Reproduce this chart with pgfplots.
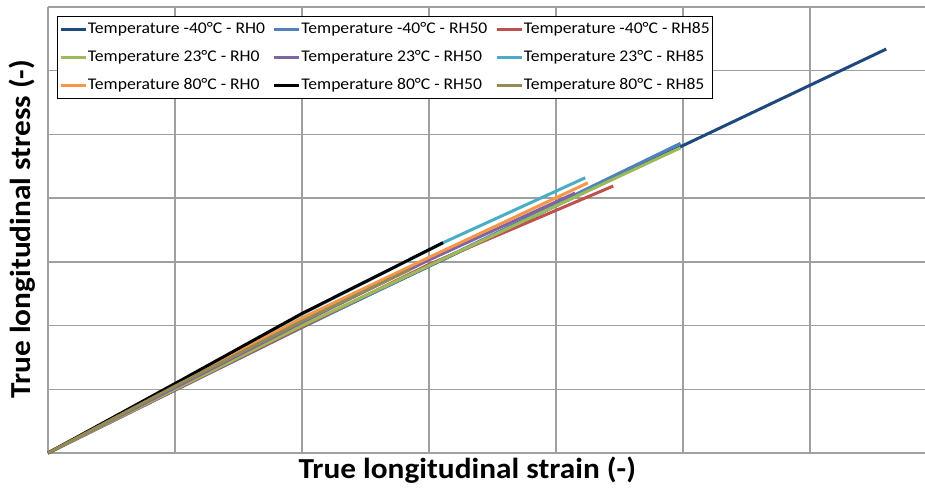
\documentclass[border=0pt]{standalone}
\usepackage{fontspec}
\setmainfont{Carlito}[FakeStretch=1.08]
\usepackage{pgfplots}
\pgfplotsset{compat=1.18}
\definecolor{cNavy}{HTML}{1F497D}
\definecolor{cBlue}{HTML}{4F81BD}
\definecolor{cRed}{HTML}{C0504D}
\definecolor{cGreen}{HTML}{9BBB59}
\definecolor{cPurple}{HTML}{8064A2}
\definecolor{cAqua}{HTML}{4BACC6}
\definecolor{cOrange}{HTML}{F79646}
\definecolor{cOlive}{HTML}{948A54}
\definecolor{cGrid}{HTML}{A0A0A0}
\begin{document}
\begin{tikzpicture}
\path[use as bounding box] (-48pt,-42pt) rectangle (877pt,453pt);
\begin{axis}[
  at={(0,0)}, anchor=south west,
  width=877pt, height=446pt, scale only axis,
  xmin=0, xmax=6.905, ymin=0, ymax=7,
  xtick={0,1,2,3,4,5,6}, ytick={0,1,2,3,4,5,6,7},
  xticklabels={}, yticklabels={},
  major tick length=0pt,
  axis line style={draw=none},
  grid=major,
  major grid style={draw=cGrid, line width=1.3pt},
  xlabel={\fontsize{29}{33}\selectfont\bfseries True longitudinal strain (-)},
  ylabel={\fontsize{29}{33}\selectfont\bfseries True longitudinal stress (-)},
  xlabel style={at={(axis description cs:0.478,-0.038)}, anchor=center},
  ylabel style={at={(axis description cs:-0.0296,0.502)}, anchor=center},
  clip=false,
  legend columns=3,
  legend style={at={(axis description cs:0.0103,0.9798)}, anchor=north west,
    draw=black, line width=1pt, font=\fontsize{16.3}{18}\selectfont,
    inner xsep=2pt, inner ysep=4pt,
    nodes={inner sep=1pt, text height=12pt, text depth=4pt},
    /tikz/every even column/.append style={column sep=7pt},
    /tikz/every odd column/.append style={column sep=0pt},
    row sep=10pt},
  legend cell align=left,
  legend image code/.code={\draw[#1, line width=2.4pt] (0pt,0pt) -- (25pt,0pt);},
]
\addplot[cNavy, line width=3pt] coordinates {(0,0) (2,1.98) (4,3.88) (6.6,6.34)};
\addlegendentry{Temperature -40°C - RH0}
\addplot[cBlue, line width=3pt] coordinates {(0,0) (2,1.97) (4,3.91) (4.98,4.86)};
\addlegendentry{Temperature -40°C - RH50}
\addplot[cRed, line width=3pt] coordinates {(0,0) (2,1.98) (3,2.96) (4.45,4.19)};
\addlegendentry{Temperature -40°C - RH85}
\addplot[cGreen, line width=3pt] coordinates {(0,0) (2,2.0) (4,3.88) (4.98,4.79)};
\addlegendentry{Temperature 23°C - RH0}
\addplot[cPurple, line width=3pt] coordinates {(0,0) (2,2.05) (3,3.03) (4.15,4.08)};
\addlegendentry{Temperature 23°C - RH50}
\addplot[cAqua, line width=3pt] coordinates {(0,0) (1,1.08) (2,2.18) (3.11,3.3) (4.23,4.32)};
\addlegendentry{Temperature 23°C - RH85}
\addplot[cOrange, line width=3pt] coordinates {(0,0) (1,1.06) (2,2.12) (3,3.07) (4.25,4.24)};
\addlegendentry{Temperature 80°C - RH0}
\addplot[black, line width=3pt] coordinates {(0,0) (1,1.09) (2,2.19) (3.11,3.3)};
\addlegendentry{Temperature 80°C - RH50}
\addplot[cOlive, line width=3pt] coordinates {(0,0) (1,1.05) (2,2.07) (2.85,2.88)};
\addlegendentry{Temperature 80°C - RH85}
\end{axis}
\end{tikzpicture}
\end{document}
